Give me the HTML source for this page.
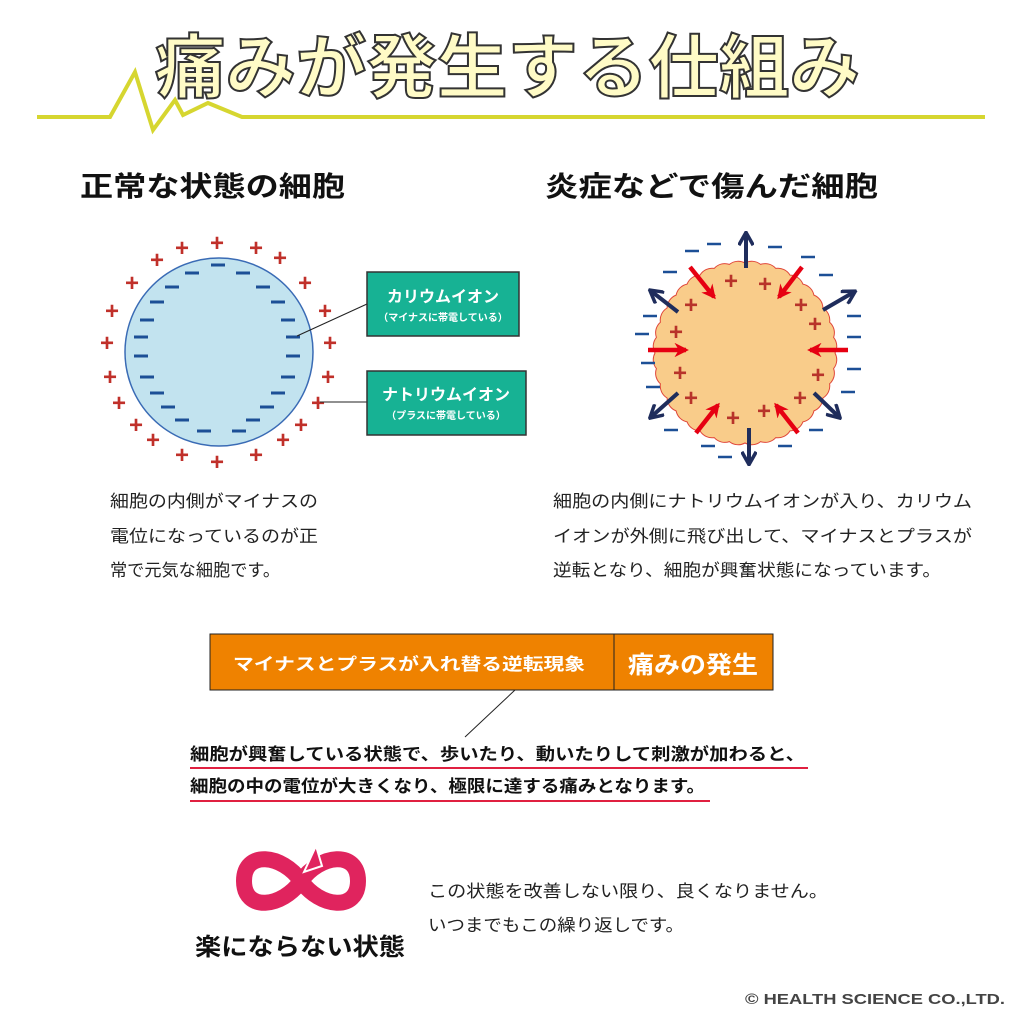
<!DOCTYPE html>
<html><head><meta charset="utf-8"><style>
html,body{margin:0;padding:0;background:#fff;}
svg{display:block;}
text{font-family:"Liberation Sans","Noto Sans CJK JP",sans-serif;}
</style></head><body>
<svg width="1020" height="1020" viewBox="0 0 1020 1020" xmlns="http://www.w3.org/2000/svg">
<defs>
<marker id="nv" viewBox="0 0 10 10" refX="8" refY="5" markerWidth="4" markerHeight="4" orient="auto" markerUnits="strokeWidth"><path d="M1,0.5 L9,5 L1,9.5" fill="none" stroke="#1f2d5c" stroke-width="2.2"/></marker>
<marker id="rd" viewBox="0 0 10 10" refX="8" refY="5" markerWidth="3.2" markerHeight="3.2" orient="auto" markerUnits="strokeWidth"><path d="M0,0 L10,5 L0,10 L3,5 Z" fill="#e60012"/></marker>
</defs>
<rect width="1020" height="1020" fill="#fff"/>
<polyline points="37,117 110,117 135,72 153,130 175,100 183,115 208,103 242,117 985,117" fill="none" stroke="#d6d630" stroke-width="4"/>
<text x="155" y="92" font-size="70" font-weight="bold" fill="#fffbc6" stroke="#333" stroke-width="2" textLength="705" lengthAdjust="spacingAndGlyphs">痛みが発生する仕組み</text>

<text x="80" y="196" font-size="28" font-weight="bold" fill="#111" textLength="265" lengthAdjust="spacingAndGlyphs">正常な状態の細胞</text>
<text x="545" y="196" font-size="28" font-weight="bold" fill="#111" textLength="333" lengthAdjust="spacingAndGlyphs">炎症などで傷んだ細胞</text>

<circle cx="219" cy="352" r="94" fill="#c2e3ef" stroke="#3a6bb5" stroke-width="1.5"/>
<g stroke="#1c4f96" stroke-width="3">
<path d="M211,265h14 M185,273h14 M236,273h14 M165,287h14 M256,287h14 M150,302h14 M271,302h14 M140,320h14 M281,320h14 M134,337h14 M286,337h14 M134,356h14 M286,356h14 M140,377h14 M281,377h14 M150,393h14 M271,393h14 M161,407h14 M260,407h14 M175,420h14 M246,420h14 M197,431h14 M232,431h14"/>
</g>
<g fill="#c0302a" font-size="24" font-weight="bold" text-anchor="middle">
<text x="217" y="251">+</text><text x="182" y="256">+</text><text x="256" y="256">+</text>
<text x="157" y="268">+</text><text x="280" y="266">+</text>
<text x="132" y="291">+</text><text x="305" y="291">+</text>
<text x="112" y="319">+</text><text x="325" y="319">+</text>
<text x="107" y="351">+</text><text x="330" y="351">+</text>
<text x="110" y="385">+</text><text x="328" y="385">+</text>
<text x="119" y="411">+</text><text x="318" y="411">+</text>
<text x="136" y="433">+</text><text x="301" y="433">+</text>
<text x="153" y="448">+</text><text x="283" y="448">+</text>
<text x="182" y="463">+</text><text x="256" y="463">+</text>
<text x="217" y="470">+</text>
</g>
<line x1="297" y1="336" x2="367" y2="304" stroke="#222" stroke-width="1"/>
<line x1="320" y1="402" x2="367" y2="402" stroke="#222" stroke-width="1"/>
<rect x="367" y="272" width="152" height="64" fill="#17b294" stroke="#333" stroke-width="1.5"/>
<rect x="367" y="371" width="159" height="64" fill="#17b294" stroke="#333" stroke-width="1.5"/>
<text x="443" y="302" font-size="16" font-weight="bold" fill="#fff" text-anchor="middle">カリウムイオン</text>
<text x="443" y="321" font-size="10" font-weight="bold" fill="#fff" text-anchor="middle">（マイナスに帯電している）</text>
<text x="446" y="400" font-size="16" font-weight="bold" fill="#fff" text-anchor="middle">ナトリウムイオン</text>
<text x="446" y="419" font-size="10" font-weight="bold" fill="#fff" text-anchor="middle">（プラスに帯電している）</text>

<path d="M835,353 A14,14 0 0 1 833.6,368.6 A14,14 0 0 1 829.6,383.8 A14,14 0 0 1 822.9,398 A14,14 0 0 1 813.9,410.9 A14,14 0 0 1 802.9,421.9 A14,14 0 0 1 790,430.9 A14,14 0 0 1 775.8,437.6 A14,14 0 0 1 760.6,441.6 A14,14 0 0 1 745,443 A14,14 0 0 1 729.4,441.6 A14,14 0 0 1 714.2,437.6 A14,14 0 0 1 700,430.9 A14,14 0 0 1 687.1,421.9 A14,14 0 0 1 676.1,410.9 A14,14 0 0 1 667.1,398 A14,14 0 0 1 660.4,383.8 A14,14 0 0 1 656.4,368.6 A14,14 0 0 1 655,353 A14,14 0 0 1 656.4,337.4 A14,14 0 0 1 660.4,322.2 A14,14 0 0 1 667.1,308 A14,14 0 0 1 676.1,295.1 A14,14 0 0 1 687.1,284.1 A14,14 0 0 1 700,275.1 A14,14 0 0 1 714.2,268.4 A14,14 0 0 1 729.4,264.4 A14,14 0 0 1 745,263 A14,14 0 0 1 760.6,264.4 A14,14 0 0 1 775.8,268.4 A14,14 0 0 1 790,275.1 A14,14 0 0 1 802.9,284.1 A14,14 0 0 1 813.9,295.1 A14,14 0 0 1 822.9,308 A14,14 0 0 1 829.6,322.2 A14,14 0 0 1 833.6,337.4 A14,14 0 0 1 835,353 Z" fill="#f9cc8a" stroke="#e0473a" stroke-width="1"/>
<g stroke="#1c4f96" stroke-width="2.5">
<path d="M707,244h14 M685,251h14 M768,247h14 M801,257h14 M819,275h14 M663,272h14 M643,316h14 M635,334h14 M641,363h14 M646,387h14 M847,316h14 M847,337h14 M847,369h14 M841,392h14 M664,430h14 M809,430h14 M701,446h14 M778,446h14 M718,457h14"/>
</g>
<g fill="#b8332a" font-size="24" font-weight="bold" text-anchor="middle">
<text x="731" y="289">+</text><text x="765" y="292">+</text>
<text x="691" y="313">+</text><text x="801" y="313">+</text>
<text x="676" y="340">+</text><text x="815" y="332">+</text>
<text x="680" y="381">+</text><text x="818" y="383">+</text>
<text x="691" y="406">+</text><text x="800" y="406">+</text>
<text x="733" y="426">+</text><text x="764" y="419">+</text>
</g>
<g stroke="#1f2d5c" stroke-width="4" fill="none" marker-end="url(#nv)">
<line x1="746" y1="268" x2="746" y2="234"/>
<line x1="678" y1="312" x2="651" y2="291"/>
<line x1="823" y1="310" x2="854" y2="292"/>
<line x1="678" y1="393" x2="651" y2="417"/>
<line x1="814" y1="393" x2="839" y2="417"/>
<line x1="749" y1="428" x2="749" y2="463"/>
</g>
<g stroke="#e60012" stroke-width="4.5" fill="none" marker-end="url(#rd)">
<line x1="648" y1="350" x2="686" y2="350"/>
<line x1="848" y1="350" x2="810" y2="350"/>
<line x1="690" y1="267" x2="714" y2="297"/>
<line x1="802" y1="267" x2="779" y2="297"/>
<line x1="696" y1="433" x2="718" y2="405"/>
<line x1="798" y1="433" x2="776" y2="405"/>
</g>

<g font-size="17" fill="#222">
<text x="110" y="507" textLength="208" lengthAdjust="spacingAndGlyphs">細胞の内側がマイナスの</text>
<text x="110" y="542" textLength="208" lengthAdjust="spacingAndGlyphs">電位になっているのが正</text>
<text x="110" y="576" textLength="170" lengthAdjust="spacingAndGlyphs">常で元気な細胞です。</text>
<text x="553" y="507" textLength="419" lengthAdjust="spacingAndGlyphs">細胞の内側にナトリウムイオンが入り、カリウム</text>
<text x="553" y="542" textLength="419" lengthAdjust="spacingAndGlyphs">イオンが外側に飛び出して、マイナスとプラスが</text>
<text x="553" y="576" textLength="388" lengthAdjust="spacingAndGlyphs">逆転となり、細胞が興奮状態になっています。</text>
</g>

<rect x="210" y="634" width="563" height="56" fill="#ef8200" stroke="#222" stroke-width="1"/>
<line x1="614" y1="634" x2="614" y2="690" stroke="#222" stroke-width="1"/>
<text x="233" y="670" font-size="17" font-weight="bold" fill="#fff" textLength="352" lengthAdjust="spacingAndGlyphs">マイナスとプラスが入れ替る逆転現象</text>
<text x="628" y="673" font-size="24" font-weight="bold" fill="#fff" textLength="130" lengthAdjust="spacingAndGlyphs">痛みの発生</text>
<line x1="515" y1="690" x2="465" y2="737" stroke="#222" stroke-width="1"/>
<text x="190" y="760" font-size="17" font-weight="bold" fill="#111" textLength="615" lengthAdjust="spacingAndGlyphs">細胞が興奮している状態で、歩いたり、動いたりして刺激が加わると、</text>
<line x1="190" y1="768" x2="808" y2="768" stroke="#e02040" stroke-width="2"/>
<text x="190" y="792" font-size="17" font-weight="bold" fill="#111" textLength="515" lengthAdjust="spacingAndGlyphs">細胞の中の電位が大きくなり、極限に達する痛みとなります。</text>
<line x1="190" y1="801" x2="710" y2="801" stroke="#e02040" stroke-width="2"/>

<path d="M301,881 C282,854 244,850 244,881 C244,912 282,908 301,881 C320,854 358,850 358,881 C358,912 320,908 301,881" fill="none" stroke="#e0245e" stroke-width="16"/>
<path d="M304,872 L316,846 L322,866 Z" fill="#e0245e" stroke="#fff" stroke-width="2"/>
<text x="195" y="955" font-size="24" font-weight="bold" fill="#111" textLength="210" lengthAdjust="spacingAndGlyphs">楽にならない状態</text>
<text x="428" y="897" font-size="17" fill="#222" textLength="400" lengthAdjust="spacingAndGlyphs">この状態を改善しない限り、良くなりません。</text>
<text x="428" y="931" font-size="17" fill="#222" textLength="256" lengthAdjust="spacingAndGlyphs">いつまでもこの繰り返しです。</text>

<text x="745" y="1004" font-size="15" font-weight="bold" fill="#444" textLength="260" lengthAdjust="spacingAndGlyphs">© HEALTH SCIENCE CO.,LTD.</text>
</svg>
</body></html>
